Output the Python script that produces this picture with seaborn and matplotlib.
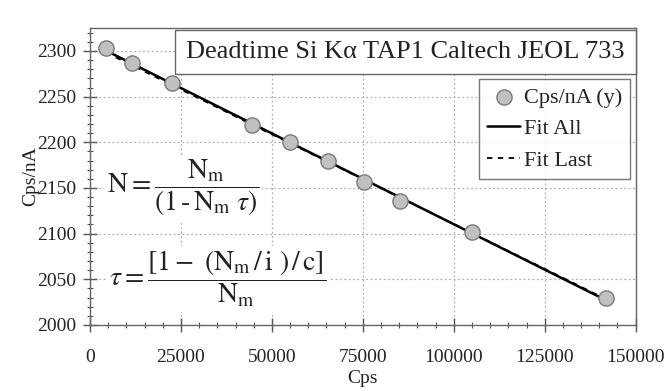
import matplotlib
matplotlib.use("Agg")
import matplotlib.pyplot as plt
from matplotlib.ticker import MultipleLocator
import numpy as np
import pandas as pd
import seaborn as sns

# values
cps = [4400, 11500, 22600, 44400, 54950, 65450, 75400, 85300, 105100, 141800]
cps_per_na = [2303, 2287, 2265, 2218.5, 2200, 2179, 2156, 2136, 2102, 2030]
n_last = 8  # points used for the "Fit Last" line

title = "Deadtime Si K\u03b1 TAP1 Caltech JEOL 733"
eq_n = r"$\mathrm{N} = \dfrac{\mathrm{N}_{\mathrm{m}}}{(1\,\text{-}\,\mathrm{N}_{\mathrm{m}}\ \tau)}$"
eq_tau = r"$\tau = \dfrac{[1 -\ (\mathrm{N}_{\mathrm{m}}\,/\,\mathrm{i}\ )\,/\,\mathrm{c}]}{\mathrm{N}_{\mathrm{m}}}$"

sns.set_theme(style="white")
plt.rcParams["font.family"] = ["Liberation Serif", "DejaVu Serif"]
plt.rcParams["mathtext.fontset"] = "stix"

df = pd.DataFrame({"Cps": cps, "Cps/nA": cps_per_na})

# linear fits
p_all = np.polyfit(df["Cps"], df["Cps/nA"], 1)
p_last = np.polyfit(df["Cps"][-n_last:], df["Cps/nA"][-n_last:], 1)
xfit = np.array([df["Cps"].min(), df["Cps"].max()])
fit_df = pd.DataFrame({"x": xfit, "all": np.polyval(p_all, xfit), "last": np.polyval(p_last, xfit)})

fig = plt.figure(figsize=(6.67, 3.91), dpi=100)
ax = fig.add_axes([0.135, 0.169, 0.818, 0.759])

sns.lineplot(data=fit_df, x="x", y="all", color="black", lw=1.8, ax=ax, label="Fit All", zorder=3)
sns.lineplot(data=fit_df, x="x", y="last", color="black", lw=1.3, ax=ax, label="Fit Last",
             zorder=4, dashes=False, linestyle=(0, (3, 3)))
sns.scatterplot(data=df, x="Cps", y="Cps/nA", s=120, color="#c0c0c0", edgecolor="#7a7a7a",
                linewidth=1.0, ax=ax, label="Cps/nA (y)", zorder=5)

ax.set_xlim(0, 150000)
ax.set_ylim(2000, 2325)
ax.xaxis.set_major_locator(MultipleLocator(25000))
ax.xaxis.set_minor_locator(MultipleLocator(5000))
ax.yaxis.set_major_locator(MultipleLocator(50))
ax.yaxis.set_minor_locator(MultipleLocator(10))
ax.grid(True, which="major", color="#b0b0b0", linestyle=(0, (1.5, 2)), lw=0.9)
ax.tick_params(which="both", bottom=True, left=True, top=False, right=False)
ax.tick_params(which="major", direction="inout", length=10, width=1, color="#555555",
               labelsize=14, labelcolor="#222222", pad=5)
ax.tick_params(which="minor", direction="inout", length=5, width=0.8, color="#555555")
ax.tick_params(axis="x", which="major", pad=12)
for s in ax.spines.values():
    s.set_color("#666666")
    s.set_linewidth(1.0)

ax.set_xlabel("Cps", fontsize=14, color="#222222", labelpad=3)
ax.set_ylabel("Cps/nA", fontsize=14, color="#222222", labelpad=-2)

ax.text(0.578, 0.921, title, transform=ax.transAxes, ha="center", va="center", fontsize=19,
        color="#222222", zorder=6,
        bbox=dict(boxstyle="square,pad=0.42", fc="white", ec="#666666", lw=1.0))

ax.text(25600, 2150, eq_n, ha="center", va="center", fontsize=20, color="#222222", zorder=6,
        bbox=dict(boxstyle="square,pad=0.1", fc="white", ec="none"))
ax.text(35000, 2050, eq_tau, ha="center", va="center", fontsize=20, color="#222222", zorder=6,
        bbox=dict(boxstyle="square,pad=0.1", fc="white", ec="none"))

h, l = ax.get_legend_handles_labels()
order = [l.index("Cps/nA (y)"), l.index("Fit All"), l.index("Fit Last")]
leg = ax.legend([h[i] for i in order], [l[i] for i in order], loc="upper right",
                bbox_to_anchor=(0.989, 0.828), fontsize=16, frameon=True, fancybox=False,
                handlelength=1.5, handletextpad=0.15, borderpad=0.35, labelspacing=0.5,
                borderaxespad=0)
leg.get_frame().set_edgecolor("#555555")
leg.get_frame().set_linewidth(1.0)
for t in leg.get_texts():
    t.set_color("#222222")

fig.savefig("out.png", dpi=100)
